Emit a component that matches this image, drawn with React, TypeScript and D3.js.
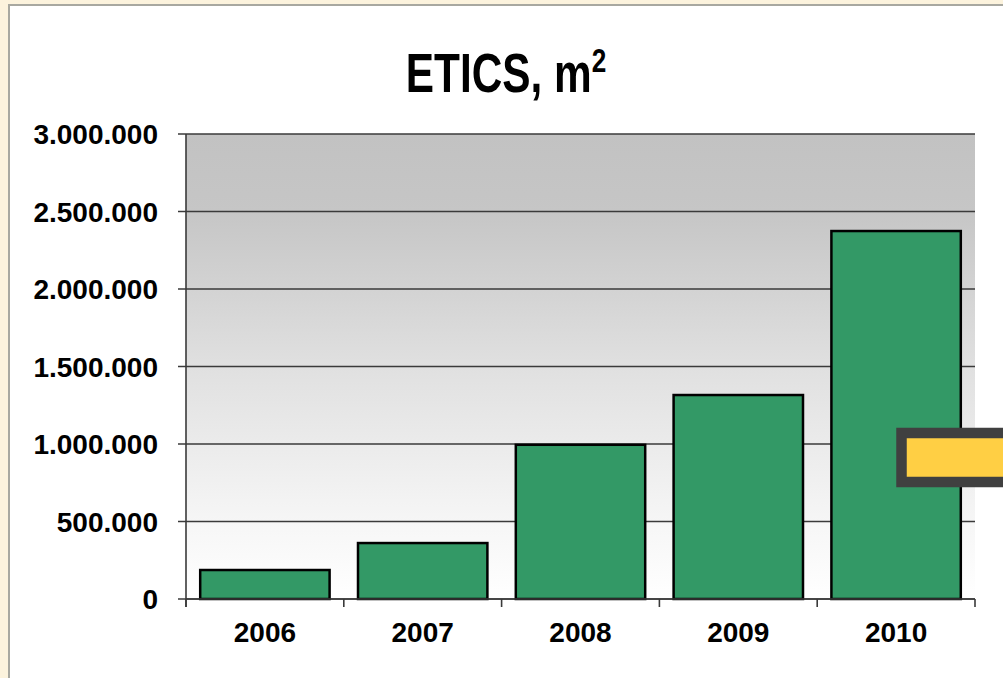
import React from "react";
import * as d3 from "d3";

const years = ["2006", "2007", "2008", "2009", "2010"];
const values = [187000, 361000, 995000, 1316000, 2374000];
const yTicks = [0, 500000, 1000000, 1500000, 2000000, 2500000, 3000000];

const W = 1003;
const H = 678;
const plot = { left: 186, right: 975, top: 134, bottom: 599 };

const fmt = (v: number) => d3.format(",")(v).replace(/,/g, ".");

export default function App() {
  const x = d3
    .scaleBand<string>()
    .domain(years)
    .range([plot.left, plot.right])
    .paddingInner(0.18)
    .paddingOuter(0.09);
  const y = d3.scaleLinear().domain([0, 3000000]).range([plot.bottom, plot.top]);
  const step = (plot.right - plot.left) / years.length;
  const boundaries = d3.range(years.length + 1).map((i) => plot.left + i * step);
  const font = "'Liberation Sans', Arial, sans-serif";

  return (
    <svg
      width={W}
      height={H}
      style={{ position: "absolute", left: 0, top: 0 }}
      fontFamily={font}
    >
      <defs>
        <linearGradient id="bg" x1="0" y1="0" x2="0" y2="1">
          <stop offset="0" stopColor="#c2c2c2" />
          <stop offset="0.17" stopColor="#c6c6c6" />
          <stop offset="0.5" stopColor="#e0e0e0" />
          <stop offset="0.85" stopColor="#f7f7f7" />
          <stop offset="1" stopColor="#ffffff" />
        </linearGradient>
      </defs>
      <rect x={0} y={0} width={W} height={H} fill="#fcf3dd" />
      <rect x={9} y={5} width={W + 20} height={H + 20} fill="#ffffff" stroke="#a8a8a0" strokeWidth={2} />

      <text
        transform={`translate(506,92) scale(0.77,1)`}
        textAnchor="middle"
        fontSize={55}
        fontWeight="bold"
        fill="#000"
      >
        ETICS, m
        <tspan fontSize={34} dy={-20}>2</tspan>
      </text>

      <rect
        x={plot.left}
        y={plot.top}
        width={plot.right - plot.left}
        height={plot.bottom - plot.top}
        fill="url(#bg)"
      />

      {yTicks.map((t) => (
        <g key={t}>
          <line
            x1={178}
            x2={plot.right}
            y1={y(t)}
            y2={y(t)}
            stroke="#3a3a3a"
            strokeWidth={1.6}
          />
          <text
            x={158}
            y={y(t)}
            dy="0.36em"
            textAnchor="end"
            fontSize={28}
            fontWeight="bold"
            fill="#000"
          >
            {fmt(t)}
          </text>
        </g>
      ))}

      {years.map((yr, i) => (
        <rect
          key={yr}
          x={x(yr)}
          y={y(values[i])}
          width={x.bandwidth()}
          height={y(0) - y(values[i])}
          fill="#339966"
          stroke="#000"
          strokeWidth={2.5}
        />
      ))}

      <line x1={plot.left} x2={plot.left} y1={plot.top} y2={607} stroke="#3a3a3a" strokeWidth={1.6} />
      <line x1={plot.left} x2={plot.right} y1={plot.bottom} y2={plot.bottom} stroke="#3a3a3a" strokeWidth={1.6} />
      {boundaries.map((b, i) => (
        <line key={i} x1={b} x2={b} y1={plot.bottom} y2={607} stroke="#3a3a3a" strokeWidth={1.6} />
      ))}

      {years.map((yr) => (
        <text
          key={yr}
          x={(x(yr) as number) + x.bandwidth() / 2}
          y={642}
          textAnchor="middle"
          fontSize={28}
          fontWeight="bold"
          fill="#000"
        >
          {yr}
        </text>
      ))}

      <rect x={901.5} y={433} width={120} height={49} fill="#ffcf44" stroke="#404040" strokeWidth={10.5} />
    </svg>
  );
}
